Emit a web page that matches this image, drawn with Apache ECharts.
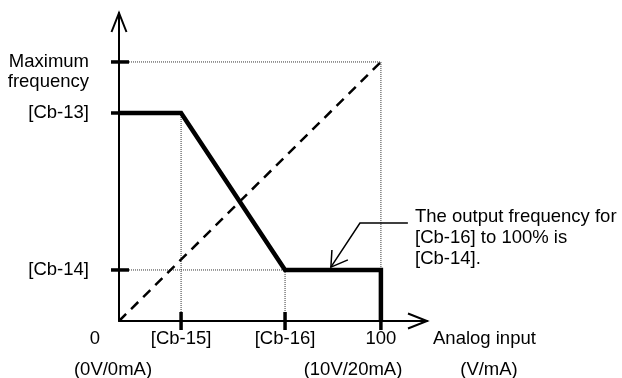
<!DOCTYPE html>
<html>
<head>
<meta charset="utf-8">
<script src="https://cdn.jsdelivr.net/npm/echarts@6/dist/echarts.min.js"></script>
<style>
  html, body { margin: 0; padding: 0; background: #fff; }
  #chart { width: 622px; height: 378px; }
</style>
</head>
<body>
<div id="chart"></div>
<script>
// tick positions (percent of input / percent of max frequency)
const xTickValues = [0, 23.7, 63.4, 100];
const xTickLabels = ['0', '[Cb-15]', '[Cb-16]', '100'];
const yTickValues = [100, 80.3, 19.7];
const yTickLabels = ['Maximum\nfrequency', '[Cb-13]', '[Cb-14]'];

// thick output curve
const outputX = [0, 23.7, 63.4, 100, 100];
const outputY = [80.3, 80.3, 19.7, 19.7, 0];

// dashed reference (standard 0-100 characteristic)
const refX = [0, 100];
const refY = [0, 100];

// callout pointer and its arrow head
const calloutX = [110.3, 92.0, 80.9];
const calloutY = [37.8, 37.8, 20.8];
const headX = [81.3, 80.9, 87.4];
const headY = [27.4, 20.8, 23.6];

const xMax = 117.6;
const yMax = 118.9;
const font = 'Liberation Sans, Arial, sans-serif';
const fs = 18.5;

var myChart = echarts.init(document.getElementById('chart'));

const zip = (xs, ys) => xs.map((x, i) => [x, ys[i]]);

// dotted guide lines built from the tick values
const guides = [
  [[xTickValues[1], yTickValues[1]], [xTickValues[1], 0]],
  [[0, yTickValues[2]], [xTickValues[2], yTickValues[2]]],
  [[xTickValues[2], yTickValues[2]], [xTickValues[2], 0]],
  [[0, yTickValues[0]], [xTickValues[3], yTickValues[0]]],
  [[xTickValues[3], yTickValues[0]], [xTickValues[3], yTickValues[2]]]
];

const txt = (text, x, y, align, vAlign) => ({
  type: 'text', x: x, y: y,
  style: { text: text, font: fs + 'px ' + font, fill: '#000', align: align, verticalAlign: vAlign || 'middle', lineHeight: 20 }
});

var option = {
  animation: false,
  grid: { left: 119, right: 195, top: 13, bottom: 57 },
  xAxis: {
    type: 'value', min: 0, max: xMax,
    splitLine: { show: false },
    axisTick: { show: false },
    axisLine: { show: true, lineStyle: { color: '#000', width: 2 } },
    axisLabel: {
      customValues: xTickValues,
      color: '#000', fontSize: fs, fontFamily: font, lineHeight: 20, margin: 8,
      // the origin label sits left of the axis corner
      formatter: v => v === 0 ? '{o|0}' : xTickLabels[xTickValues.indexOf(v)],
      rich: { o: { fontSize: fs, fontFamily: font, color: '#000', padding: [0, 48, 0, 0] } }
    }
  },
  yAxis: {
    type: 'value', min: 0, max: yMax,
    splitLine: { show: false },
    axisTick: { show: false },
    axisLine: { show: true, lineStyle: { color: '#000', width: 2 } },
    axisLabel: {
      customValues: yTickValues.slice(1),
      color: '#000', fontSize: fs, fontFamily: font, lineHeight: 20, margin: 30, align: 'right',
      formatter: v => yTickLabels[yTickValues.indexOf(v)]
    }
  },
  series: [
    {
      type: 'lines', coordinateSystem: 'cartesian2d', polyline: true, clip: false, silent: true,
      lineStyle: { color: '#333', width: 1, type: [1, 1], opacity: 1 },
      data: guides.map(c => ({ coords: c }))
    },
    {
      type: 'line', data: zip(refX, refY), symbol: 'none', silent: true,
      lineStyle: { color: '#000', width: 2.5, type: [10, 7] }
    },
    {
      type: 'line', data: zip(outputX, outputY), symbol: 'none', silent: true,
      lineStyle: { color: '#000', width: 4.5, join: 'miter' }
    },
    {
      type: 'lines', coordinateSystem: 'cartesian2d', polyline: true, clip: false, silent: true,
      lineStyle: { color: '#000', width: 1.5, opacity: 1 },
      data: [{ coords: zip(calloutX, calloutY) }, { coords: zip(headX, headY) }]
    },
    {
      // axis ticks on x, crossing the axis line
      type: 'custom', clip: false, silent: true,
      data: xTickValues.slice(1).map(v => [v, 0]),
      renderItem: (params, api) => {
        const p = api.coord([api.value(0), 0]);
        return { type: 'line', shape: { x1: p[0], y1: p[1] - 9, x2: p[0], y2: p[1] + 9 }, style: { stroke: '#000', lineWidth: 3.5 } };
      }
    },
    {
      // axis ticks on y
      type: 'custom', clip: false, silent: true,
      data: yTickValues.map(v => [0, v]),
      renderItem: (params, api) => {
        const p = api.coord([0, api.value(1)]);
        return { type: 'line', shape: { x1: p[0] - 8, y1: p[1], x2: p[0] + 10, y2: p[1] }, style: { stroke: '#000', lineWidth: 3.5 } };
      }
    },
    {
      // open arrow heads at the axis ends
      type: 'custom', clip: false, silent: true,
      data: [[0, yMax, 0], [xMax, 0, 1]],
      renderItem: (params, api) => {
        const p = api.coord([api.value(0), api.value(1)]);
        const pts = api.value(2) === 0
          ? [[p[0] - 7.5, p[1] + 19], p, [p[0] + 7.5, p[1] + 19]]
          : [[p[0] - 19, p[1] - 7.5], p, [p[0] - 19, p[1] + 7.5]];
        return { type: 'polyline', shape: { points: pts }, style: { stroke: '#000', lineWidth: 2, fill: null } };
      }
    }
  ]
};

myChart.setOption(option);

// two-line label for the top tick: first line level with the tick
const maxPos = myChart.convertToPixel({ xAxisIndex: 0, yAxisIndex: 0 }, [0, yTickValues[0]]);
myChart.setOption({
  graphic: [
    txt(yTickLabels[0], maxPos[0] - 30, maxPos[1] - 10, 'right', 'top'),
    txt('Analog input', 433, 339, 'left'),
    txt('(0V/0mA)', 113, 370, 'center'),
    txt('(10V/20mA)', 353, 370, 'center'),
    txt('(V/mA)', 489, 370, 'center'),
    {
      type: 'text', x: 415, y: 206,
      style: { text: 'The output frequency for\n[Cb-16] to 100% is\n[Cb-14].', font: fs + 'px ' + font, fill: '#000', lineHeight: 21, verticalAlign: 'top' }
    }
  ]
});
</script>
</body>
</html>
